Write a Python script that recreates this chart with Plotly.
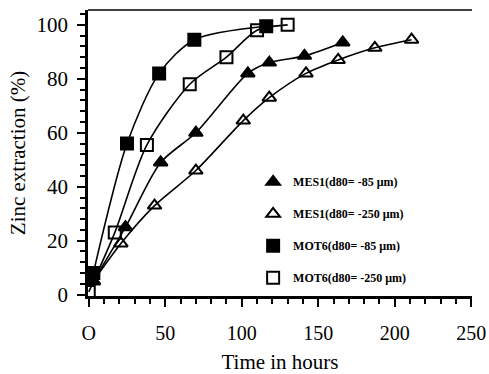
import plotly.graph_objects as go

# Data
mes1_85_t = [3, 24, 47, 70, 104, 118, 141, 166]
mes1_85_y = [5, 25, 49, 60, 82, 86, 88.5, 93.5]

mes1_250_t = [3, 21, 43, 70, 101, 118, 142, 163, 187, 211]
mes1_250_y = [5, 19, 33, 46, 64.5, 73, 82, 87, 91.5, 94.5]

mot6_85_t = [3, 25, 46, 69, 116]
mot6_85_y = [8, 56, 82, 94.5, 99.5]

mot6_250_t = [0, 17, 38, 66, 90, 110, 130]
mot6_250_y = [1, 23, 55.5, 78, 88, 98, 100]

names = ["MES1(d80= -85 μm)", "MES1(d80= -250 μm)",
         "MOT6(d80= -85 μm)", "MOT6(d80= -250 μm)"]
symbols = ["triangle-up", "triangle-up-open", "square", "square-open"]
series = [(mes1_85_t, mes1_85_y), (mes1_250_t, mes1_250_y),
          (mot6_85_t, mot6_85_y), (mot6_250_t, mot6_250_y)]

x_tickvals = [0, 50, 100, 150, 200, 250]
x_ticktext = ["O", "50", "100", "150", "200", "250"]
y_tickvals = [0, 20, 40, 60, 80, 100]

FONT = "Liberation Serif"

fig = go.Figure()
for (t, y), name in zip(series, names):
    fig.add_trace(go.Scatter(x=t, y=y, mode="lines",
                             line=dict(color="black", width=1.6, shape="spline", smoothing=0.8),
                             showlegend=False, hoverinfo="skip"))
for i, ((t, y), name, sym) in enumerate(zip(series, names, symbols)):
    fig.add_trace(go.Scatter(x=t, y=y, mode="markers", name=name, legendgroup=str(i),
                             marker=dict(symbol=sym, size=12, color="black",
                                         line=dict(color="black", width=2))))

fig.update_layout(
    width=489, height=374,
    margin=dict(l=88, r=17, t=10, b=78),
    paper_bgcolor="white", plot_bgcolor="white",
    font=dict(family=FONT, color="black", size=20),
    legend=dict(x=0.43, y=0.45, xanchor="left", yanchor="top",
                font=dict(family=FONT, size=12, weight="bold"), bgcolor="rgba(0,0,0,0)",
                tracegroupgap=13, itemwidth=30),
    shapes=[dict(type="line", xref="paper", yref="paper", x0=0, x1=1, y0=1, y1=1,
                 line=dict(color="black", width=1.5))],
)
fig.update_xaxes(range=[-0.5, 250.5], tickvals=x_tickvals, ticktext=x_ticktext, automargin=False,
                 showgrid=False, zeroline=False, showline=True, linecolor="black", linewidth=2.5,
                 ticks="outside", ticklen=8, tickwidth=2, tickcolor="black",
                 minor=dict(dtick=10, ticks="outside", ticklen=5, tickwidth=2, tickcolor="black"),
                 tickfont=dict(family=FONT, size=20), ticklabelstandoff=9,
                 title=dict(text="Time in hours", font=dict(family=FONT, size=21), standoff=22))
fig.update_yaxes(range=[-0.5, 105.5], tickvals=y_tickvals, automargin=False,
                 showgrid=False, zeroline=False, showline=True, linecolor="black", linewidth=2.5,
                 ticks="outside", ticklen=8, tickwidth=2, tickcolor="black",
                 minor=dict(dtick=4, ticks="outside", ticklen=5, tickwidth=2, tickcolor="black"),
                 tickfont=dict(family=FONT, size=21), ticklabelstandoff=5,
                 title=dict(text="Zinc extraction (%)", font=dict(family=FONT, size=21), standoff=6))

fig.write_html("out.html")
